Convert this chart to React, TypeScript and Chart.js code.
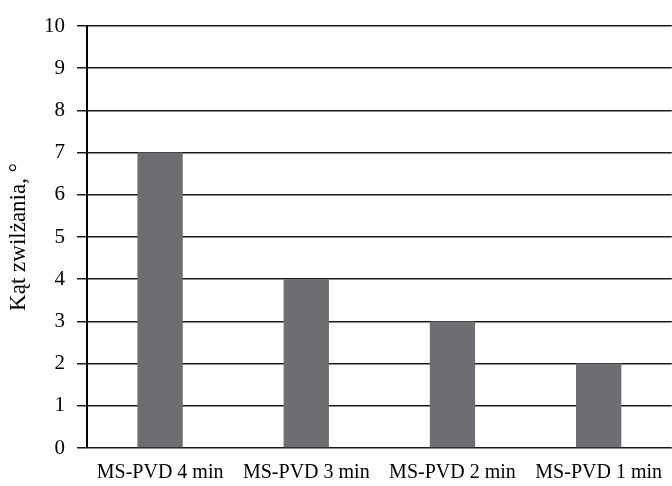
import React, { useEffect, useRef } from "react";
import { Chart, registerables } from "chart.js";

Chart.register(...registerables);

const categories = ["MS-PVD 4 min", "MS-PVD 3 min", "MS-PVD 2 min", "MS-PVD 1 min"];
const values = [7, 4, 3, 2];
const yTitle = "Kąt zwilżania, °";

export default function App() {
  const ref = useRef<HTMLCanvasElement | null>(null);

  useEffect(() => {
    document.body.style.margin = "0";
    const canvas = ref.current;
    if (!canvas) return;
    const font = "'Liberation Serif', 'Times New Roman', serif";
    const chart = new Chart(canvas, {
      type: "bar",
      data: {
        labels: categories,
        datasets: [
          {
            data: values,
            backgroundColor: "#6d6e71",
            borderWidth: 0,
            barPercentage: 0.31,
            categoryPercentage: 1,
          },
        ],
      },
      options: {
        animation: false,
        responsive: false,
        maintainAspectRatio: false,
        layout: { padding: { top: 26, right: 0, left: 0, bottom: 0 } },
        plugins: {
          legend: { display: false },
          tooltip: { enabled: false },
        },
        scales: {
          x: {
            grid: { display: false, drawTicks: false },
            border: { display: false },
            ticks: {
              color: "#000",
              font: { family: font, size: 20 },
              padding: 13,
              maxRotation: 0,
              autoSkip: false,
            },
            afterFit: (s: any) => {
              s.height = 38;
            },
          },
          y: {
            min: 0,
            max: 10,
            ticks: {
              stepSize: 1,
              color: "#000",
              font: { family: font, size: 21 },
              padding: 12,
            },
            grid: {
              color: "#1a1a1a",
              lineWidth: 1.5,
              tickLength: 10,
            },
            border: { display: true, color: "#000", width: 2 },
            title: {
              display: true,
              text: yTitle,
              color: "#000",
              font: { family: font, size: 23 },
              padding: { top: 5, bottom: 2 },
            },
            afterFit: (s: any) => {
              s.width = 87;
            },
          },
        },
      },
    });
    return () => chart.destroy();
  }, []);

  return (
    <div style={{ width: 672, height: 486, overflow: "hidden" }}>
      <canvas ref={ref} width={675} height={486} />
    </div>
  );
}
